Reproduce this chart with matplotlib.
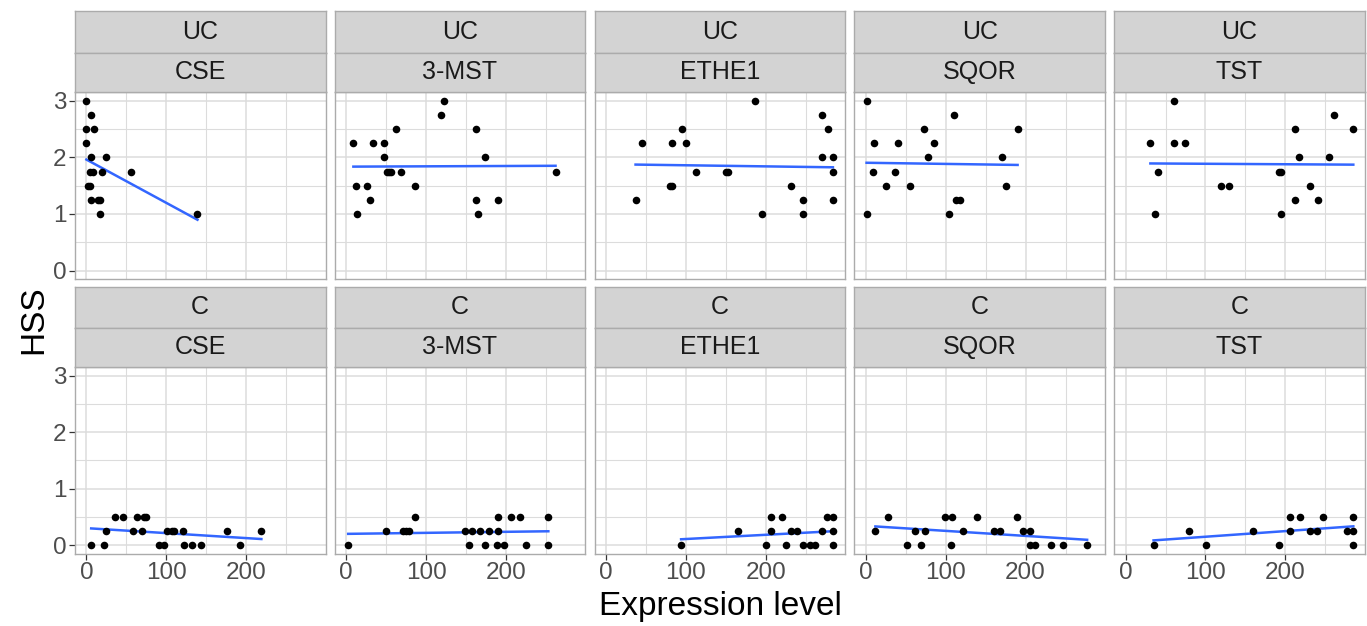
import numpy as np
import matplotlib
matplotlib.use("Agg")
import matplotlib.pyplot as plt

plt.rcParams['font.family'] = ['Liberation Sans', 'DejaVu Sans']

groups = ["UC", "C"]
genes = ["CSE", "3-MST", "ETHE1", "SQOR", "TST"]

# UC row
uc_cse_x = [0, 6, 0, 9, 0, 6, 25, 4, 8, 19, 56, 2, 5, 6, 15, 17, 17, 139]
uc_cse_y = [3, 2.75, 2.5, 2.5, 2.25, 2, 2, 1.75, 1.75, 1.75, 1.75, 1.5, 1.5, 1.25, 1.25, 1.25, 1, 1]
uc_mst_x = [122, 119, 62, 162, 9, 34, 47, 47, 174, 51, 53, 56, 69, 262, 12, 26, 86, 30, 162, 190, 14, 165]
uc_mst_y = [3, 2.75, 2.5, 2.5, 2.25, 2.25, 2.25, 2, 2, 1.75, 1.75, 1.75, 1.75, 1.75, 1.5, 1.5, 1.5, 1.25, 1.25, 1.25, 1, 1]
uc_ethe1_x = [187, 270, 95, 278, 45, 83, 100, 270, 284, 113, 150, 153, 284, 80, 83, 231, 37, 246, 284, 195, 246]
uc_ethe1_y = [3, 2.75, 2.5, 2.5, 2.25, 2.25, 2.25, 2, 2, 1.75, 1.75, 1.75, 1.75, 1.5, 1.5, 1.5, 1.25, 1.25, 1.25, 1, 1]
uc_sqor_x = [1, 111, 73, 190, 10, 40, 85, 78, 170, 9, 37, 25, 55, 175, 113, 118, 1, 104]
uc_sqor_y = [3, 2.75, 2.5, 2.5, 2.25, 2.25, 2.25, 2, 2, 1.75, 1.75, 1.5, 1.5, 1.5, 1.25, 1.25, 1, 1]
uc_tst_x = [60, 261, 212, 285, 31, 60, 74, 217, 255, 41, 192, 194, 119, 130, 231, 212, 241, 37, 194]
uc_tst_y = [3, 2.75, 2.5, 2.5, 2.25, 2.25, 2.25, 2, 2, 1.75, 1.75, 1.75, 1.5, 1.5, 1.5, 1.25, 1.25, 1, 1]

# C row
c_cse_x = [6, 22, 91, 97, 122, 132, 144, 192, 24, 58, 70, 101, 107, 110, 121, 176, 219, 36, 46, 63, 72, 75]
c_cse_y = [0, 0, 0, 0, 0, 0, 0, 0, 0.25, 0.25, 0.25, 0.25, 0.25, 0.25, 0.25, 0.25, 0.25, 0.5, 0.5, 0.5, 0.5, 0.5]
c_mst_x = [2.5, 154, 174, 189, 197, 225, 253, 50, 71, 75, 79, 149, 158, 168, 179, 190, 86, 190, 206, 218, 253]
c_mst_y = [0, 0, 0, 0, 0, 0, 0, 0.25, 0.25, 0.25, 0.25, 0.25, 0.25, 0.25, 0.25, 0.25, 0.5, 0.5, 0.5, 0.5, 0.5]
c_ethe1_x = [94, 200, 225, 246, 255, 262, 284, 165, 206, 232, 239, 270, 284, 206, 220, 277, 284]
c_ethe1_y = [0, 0, 0, 0, 0, 0, 0, 0.25, 0.25, 0.25, 0.25, 0.25, 0.25, 0.5, 0.5, 0.5, 0.5]
c_sqor_x = [51, 69, 107, 206, 212, 232, 247, 277, 12, 61, 74, 122, 161, 168, 197, 206, 27.5, 99, 108, 139, 189]
c_sqor_y = [0, 0, 0, 0, 0, 0, 0, 0, 0.25, 0.25, 0.25, 0.25, 0.25, 0.25, 0.25, 0.25, 0.5, 0.5, 0.5, 0.5, 0.5]
c_tst_x = [35, 101, 192, 285, 79, 160, 206, 231, 240, 277, 285, 206, 218, 247, 285]
c_tst_y = [0, 0, 0, 0, 0.25, 0.25, 0.25, 0.25, 0.25, 0.25, 0.25, 0.5, 0.5, 0.5, 0.5]

data = [
    [(uc_cse_x, uc_cse_y), (uc_mst_x, uc_mst_y), (uc_ethe1_x, uc_ethe1_y), (uc_sqor_x, uc_sqor_y), (uc_tst_x, uc_tst_y)],
    [(c_cse_x, c_cse_y), (c_mst_x, c_mst_y), (c_ethe1_x, c_ethe1_y), (c_sqor_x, c_sqor_y), (c_tst_x, c_tst_y)],
]

x_ticks = [0, 100, 200]
y_ticks = [0, 1, 2, 3]

W, H = 1367, 626
fig = plt.figure(figsize=(W / 100, H / 100), dpi=100)

border = "#ABABAB"
strip_fill = "#D3D3D3"
grid_col = "#DCDCDC"

panel_w = 250.5
col_step = 259.8
left0 = 75
rows = [  # (strip_top, strip_mid, panel_top, panel_bottom) in pixels
    (11, 52.5, 92.3, 279),
    (287, 327.5, 367.3, 553.5),
]

def fx(px):
    return px / W

def fy(py):
    return 1 - py / H

for r in range(2):
    st, sm, pt, pb = rows[r]
    for c in range(5):
        x0 = left0 + c * col_step
        ax = fig.add_axes([fx(x0), fy(pb), panel_w / W, (pb - pt) / H])
        xs, ys = data[r][c]
        xs = np.asarray(xs, float)
        ys = np.asarray(ys, float)
        ax.set_xlim(-14.25, 299.25)
        ax.set_ylim(-0.15, 3.15)
        ax.set_xticks(x_ticks)
        ax.set_yticks(y_ticks)
        ax.set_xticks([50, 150, 250], minor=True)
        ax.set_yticks([0.5, 1.5, 2.5], minor=True)
        ax.grid(True, which="major", color=grid_col, lw=1.1, zorder=0)
        ax.grid(True, which="minor", color=grid_col, lw=0.8, zorder=0)
        ax.set_axisbelow(True)
        for s in ax.spines.values():
            s.set_color(border)
            s.set_linewidth(1.0)
        ax.tick_params(which="minor", length=0)
        ax.tick_params(which="major", length=4, width=0.9, color="#333333",
                       labelsize=17.5, labelcolor="#4D4D4D", pad=2)
        if c != 0:
            ax.tick_params(axis="y", labelleft=False, length=0)
        if r == 0:
            ax.tick_params(axis="x", labelbottom=False, length=0)
        ax.scatter(xs, ys, s=30, color="black", zorder=3, linewidths=0)
        k, b = np.polyfit(xs, ys, 1)
        xl = np.array([xs.min(), xs.max()])
        ax.plot(xl, k * xl + b, color="#3366FF", lw=1.8, zorder=2)

        # strips
        for (t0, t1, label) in [(st, sm, groups[r]), (sm, pt, genes[c])]:
            sax = fig.add_axes([fx(x0), fy(t1), panel_w / W, (t1 - t0) / H])
            sax.set_facecolor(strip_fill)
            sax.set_xticks([])
            sax.set_yticks([])
            for s in sax.spines.values():
                s.set_color(border)
                s.set_linewidth(1.0)
            sax.text(0.5, 0.5, label, ha="center", va="center", fontsize=18,
                     color="#1A1A1A", transform=sax.transAxes)

fig.text(fx(720), fy(606), "Expression level", ha="center", va="center", fontsize=24)
fig.text(fx(34), fy(320), "HSS", ha="center", va="center", fontsize=24, rotation=90)

fig.savefig("out.png", dpi=100)
